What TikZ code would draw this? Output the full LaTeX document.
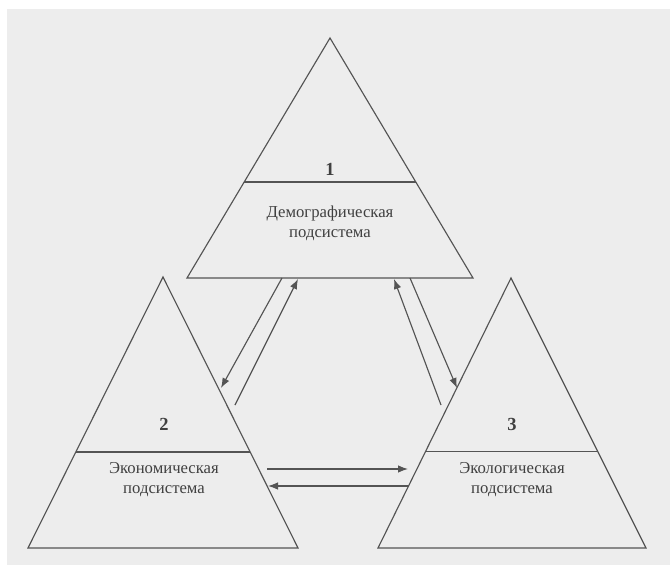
\documentclass[tikz,border=0pt]{standalone}
\usepackage{fontspec}
\setmainfont{Liberation Serif}
\usepackage{tikz}
\usetikzlibrary{arrows.meta}
\usetikzlibrary{calc}
\definecolor{paper}{rgb}{0.93, 0.93, 0.93}
\definecolor{ink}{rgb}{0.33, 0.33, 0.33}
\definecolor{txt}{rgb}{0.25, 0.25, 0.25}

\begin{document}
\begin{tikzpicture}[x=0.02cm, y=-0.02cm,
    tri/.style={draw=ink, line width=0.65pt, line join=miter},
    link/.style={draw=ink, line width=0.65pt, -{Latex[length=2mm, width=1.5mm]}},
    num/.style={text=txt, font=\fontsize{10.5}{12}\selectfont\bfseries},
    sub/.style={text=txt, align=center, font=\fontsize{9.5}{11.4}\selectfont}]
    % Fond
    \useasboundingbox (0,0) rectangle (670,565);
    \fill[white] (0,0) rectangle (670,565);
    \fill[paper] (7,9) rectangle (670,565);

    % Triangle 1
    \coordinate (t1a) at (330,38);
    \coordinate (t1l) at (187,278);
    \coordinate (t1r) at (473,278);
    \draw[tri] (t1a) -- (t1l) -- (t1r) -- cycle;
    \draw[tri] ($(t1a)!0.6!(t1l)$) -- ($(t1a)!0.6!(t1r)$);
    \node[num] (n1) at (330,169) {1};
    \node[sub] (s1) at (330,223) {Демографическая\\подсистема};

    % Triangle 2
    \coordinate (t2a) at (163,277);
    \coordinate (t2l) at (28,548);
    \coordinate (t2r) at (298,548);
    \draw[tri] (t2a) -- (t2l) -- (t2r) -- cycle;
    \draw[tri] ($(t2a)!0.646!(t2l)$) -- ($(t2a)!0.646!(t2r)$);
    \node[num] (n2) at (164,424) {2};
    \node[sub] (s2) at (164,480) {Экономическая\\подсистема};

    % Triangle 3
    \coordinate (t3a) at (511,278);
    \coordinate (t3l) at (378,548);
    \coordinate (t3r) at (646,548);
    \draw[tri] (t3a) -- (t3l) -- (t3r) -- cycle;
    \draw[tri] ($(t3a)!0.644!(t3l)$) -- ($(t3a)!0.644!(t3r)$);
    \node[num] (n3) at (512,424) {3};
    \node[sub] (s3) at (512,480) {Экологическая\\подсистема};

    % Extrémités des flèches
    \coordinate (a12) at (282,278);
    \coordinate (b12) at (221,388);
    \coordinate (a21) at (235,405);
    \coordinate (b21) at (298,279);
    \coordinate (a13) at (410,278);
    \coordinate (b13) at (457,388);
    \coordinate (a31) at (441,405);
    \coordinate (b31) at (394,279);
    \coordinate (a23) at (267,469);
    \coordinate (b23) at (408,469);
    \coordinate (a32) at (409,486);
    \coordinate (b32) at (268,486);

    % Flèches
    \draw[link] (a12) -- (b12);
    \draw[link] (a21) -- (b21);
    \draw[link] (a13) -- (b13);
    \draw[link] (a31) -- (b31);
    \draw[link] (a23) -- (b23);
    \draw[link] (a32) -- (b32);
\end{tikzpicture}
\end{document}
